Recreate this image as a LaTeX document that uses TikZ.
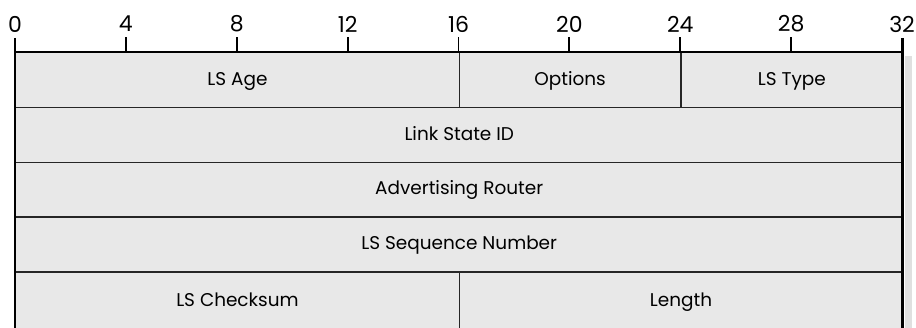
\documentclass[tikz,border=0pt]{standalone}
\usepackage{fontspec}
\setmainfont{Poppins}
\usepackage{tikz}
\usetikzlibrary{positioning}
\definecolor{fieldgray}{RGB}{232,232,232}
\definecolor{shadowgray}{RGB}{224,224,224}

\begin{document}
\begin{tikzpicture}[x=0.5544cm,y=1.096cm,
    field/.style={draw=black!85,line width=0.8pt,fill=fieldgray,anchor=north west,inner sep=0pt,minimum width=#1*0.5544cm,minimum height=1.096cm,text height=1.6ex,text depth=0.5ex,font=\fontsize{10.5}{12}\selectfont},
    lastfield/.style={field=#1,minimum height=1.18cm},
    bitnum/.style={font=\fontsize{12.5}{14}\selectfont,inner sep=0pt},
    border/.style={line width=1.7pt},
    tickmark/.style={line width=1.1pt}]
   \useasboundingbox (-0.3cm,1.04cm) rectangle (18.02cm,-5.52cm);
   % shadow on the right side
   \fill[shadowgray] (17.8cm,-0.08cm) rectangle (17.94cm,-5.52cm);
   % header fields
   \node[field=16] (age)  at (0,0)  {LS Age};
   \node[field=8]  (opt)  at (16,0) {Options};
   \node[field=8]  (type) at (24,0) {LS Type};
   \node[field=32] (lsid) at (0,-1) {Link State ID};
   \node[field=32] (adv)  at (0,-2) {Advertising Router};
   \node[field=32] (seq)  at (0,-3) {LS Sequence Number};
   \node[lastfield=16] (csum) at (0,-4) {LS Checksum};
   \node[lastfield=16] (len)  at (16,-4) {Length};
   % top edge and outer borders
   \draw[border] (0,0) -- (32,0);
   \draw[border] (0,0.28cm) -- (0,-5.6cm);
   \draw[border] (32,0.28cm) -- (32,-5.6cm);
   % bit ruler
   \foreach \b in {4,8,...,28}
     \draw[tickmark] (\b,0) -- (\b,0.3cm);
   \foreach \b in {0,4,...,32}
     \node[bitnum] (n\b) at (\b,0.56cm) {\b};
  \end{tikzpicture}
\end{document}
